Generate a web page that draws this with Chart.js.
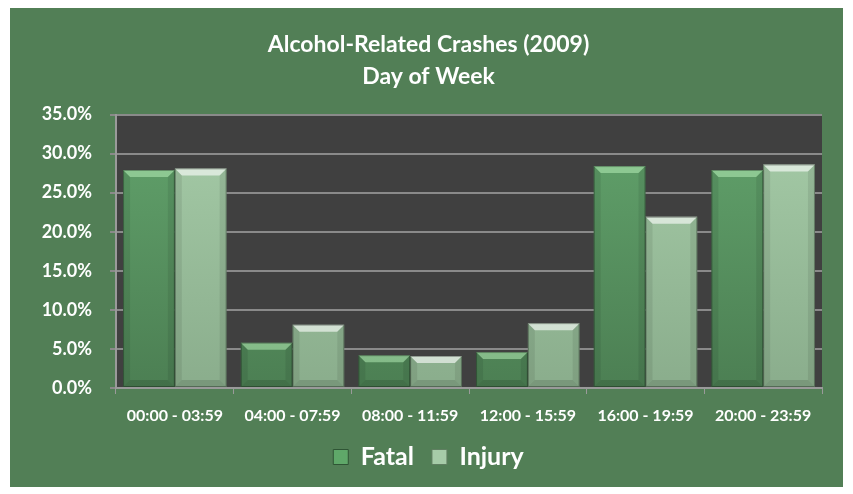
<!DOCTYPE html>
<html>
<head>
<meta charset="utf-8">
<script src="https://cdn.jsdelivr.net/npm/chart.js@4.4.1/dist/chart.umd.min.js"></script>
<style>
    html, body { margin: 0; padding: 0; background: #ffffff; }
    #wrap { width: 853px; height: 494px; position: relative; }
</style>
</head>
<body>
<div id="wrap"><canvas id="chartCrashes" width="853" height="494"></canvas></div>
<script>
// Datos
const timeSlots = ['00:00 - 03:59', '04:00 - 07:59', '08:00 - 11:59', '12:00 - 15:59', '16:00 - 19:59', '20:00 - 23:59'];
const fatalPct = [27.9, 5.8, 4.2, 4.6, 28.4, 27.9];
const injuryPct = [28.1, 8.1, 4.1, 8.3, 21.9, 28.6];
const yTicks = [0, 5, 10, 15, 20, 25, 30, 35];

const FONT = 'Lato, "Open Sans", sans-serif';
const legendColors = ['#5fa869', '#a6cca8'];
const legendBorders = ['#2f5535', '#5f7f61'];

// Degradado vertical para las barras
function barGradient(top, bottom) {
    return (c) => {
        const area = c.chart.chartArea;
        if (!area) return bottom;
        const g = c.chart.ctx.createLinearGradient(0, area.top, 0, area.bottom);
        g.addColorStop(0, top);
        g.addColorStop(1, bottom);
        return g;
    };
}

// Fondo verde del gráfico y fondo gris del área de trazado
const backgroundPlugin = {
    id: 'bgPanels',
    beforeDraw(chart) {
        const ctx = chart.ctx;
        const a = chart.chartArea;
        ctx.save();
        ctx.fillStyle = '#527f56';
        ctx.fillRect(10, 8, 833, 479);
        ctx.fillStyle = '#404040';
        ctx.fillRect(a.left, a.top, a.right - a.left, a.bottom - a.top);
        ctx.restore();
    }
};

// Efecto biselado sobre cada barra
const bevelPlugin = {
    id: 'bevel',
    afterDatasetsDraw(chart) {
        const ctx = chart.ctx;
        chart.data.datasets.forEach((ds, i) => {
            const meta = chart.getDatasetMeta(i);
            meta.data.forEach(bar => {
                const w = bar.width;
                const l = bar.x - w / 2, r = bar.x + w / 2;
                const t = bar.y, b = bar.base;
                const d = Math.min(7, (b - t) / 3);
                ctx.save();
                // borde superior claro
                ctx.fillStyle = i === 0 ? 'rgba(200,255,200,0.45)' : 'rgba(255,255,255,0.6)';
                ctx.beginPath();
                ctx.moveTo(l, t); ctx.lineTo(r, t); ctx.lineTo(r - d, t + d); ctx.lineTo(l + d, t + d);
                ctx.closePath(); ctx.fill();
                // lados
                ctx.fillStyle = 'rgba(0,0,0,0.08)';
                ctx.beginPath();
                ctx.moveTo(l, t); ctx.lineTo(l + d, t + d); ctx.lineTo(l + d, b - d); ctx.lineTo(l, b);
                ctx.closePath(); ctx.fill();
                ctx.beginPath();
                ctx.moveTo(r, t); ctx.lineTo(r - d, t + d); ctx.lineTo(r - d, b - d); ctx.lineTo(r, b);
                ctx.closePath(); ctx.fill();
                // borde inferior oscuro
                ctx.fillStyle = 'rgba(0,0,0,0.12)';
                ctx.beginPath();
                ctx.moveTo(l, b); ctx.lineTo(r, b); ctx.lineTo(r - d, b - d); ctx.lineTo(l + d, b - d);
                ctx.closePath(); ctx.fill();
                ctx.strokeStyle = 'rgba(0,0,0,0.3)';
                ctx.lineWidth = 1;
                ctx.strokeRect(l + 0.5, t + 0.5, w - 1, b - t - 1);
                ctx.restore();
            });
        });
    }
};

const ctx = document.getElementById('chartCrashes');
new Chart(ctx, {
    type: 'bar',
    data: {
        labels: timeSlots,
        datasets: [
            {
                label: 'Fatal',
                data: fatalPct,
                backgroundColor: barGradient('#62a36c', '#4c7f53'),
                borderWidth: 0,
                categoryPercentage: 0.88,
                barPercentage: 1.0
            },
            {
                label: 'Injury',
                data: injuryPct,
                backgroundColor: barGradient('#a6cca8', '#8aad8c'),
                borderWidth: 0,
                categoryPercentage: 0.88,
                barPercentage: 1.0
            }
        ]
    },
    options: {
        responsive: false,
        animation: false,
        layout: { padding: { left: 35, right: 31, top: 8, bottom: 14.5 } },
        plugins: {
            title: {
                display: true,
                text: ['Alcohol-Related Crashes (2009)', 'Day of Week'],
                color: '#ffffff',
                font: { family: FONT, size: 23, weight: 'bold', lineHeight: 32 / 23 },
                padding: { top: 20.5, bottom: 22 }
            },
            legend: {
                position: 'bottom',
                labels: {
                    color: '#ffffff',
                    font: { family: FONT, size: 25, weight: 'bold' },
                    boxWidth: 15,
                    boxHeight: 15,
                    padding: 18,
                    generateLabels(chart) {
                        const items = Chart.defaults.plugins.legend.labels.generateLabels(chart);
                        items.forEach((it, i) => {
                            it.fillStyle = legendColors[i];
                            it.strokeStyle = legendBorders[i];
                            it.lineWidth = 1;
                        });
                        return items;
                    }
                }
            },
            tooltip: { enabled: false }
        },
        scales: {
            x: {
                grid: {
                    display: true,
                    drawOnChartArea: false,
                    color: '#9a9a9a',
                    tickLength: 6,
                    lineWidth: 1
                },
                border: { color: '#9a9a9a', width: 2 },
                ticks: {
                    color: '#ffffff',
                    font: { family: FONT, size: 16, weight: 'bold' },
                    padding: 12,
                    maxRotation: 0
                },
                afterFit(scale) { scale.height = 38.5; }
            },
            y: {
                min: 0,
                max: 35,
                afterBuildTicks(scale) { scale.ticks = yTicks.map(v => ({ value: v })); },
                grid: {
                    color: '#8a8a8a',
                    lineWidth: 2,
                    tickLength: 6
                },
                border: { color: '#9a9a9a', width: 2 },
                ticks: {
                    color: '#ffffff',
                    font: { family: FONT, size: 18, weight: 'bold' },
                    padding: 18,
                    callback: v => v.toFixed(1) + '%'
                },
                afterFit(scale) { scale.width = 81; }
            }
        }
    },
    plugins: [backgroundPlugin, bevelPlugin]
});
</script>
</body>
</html>
